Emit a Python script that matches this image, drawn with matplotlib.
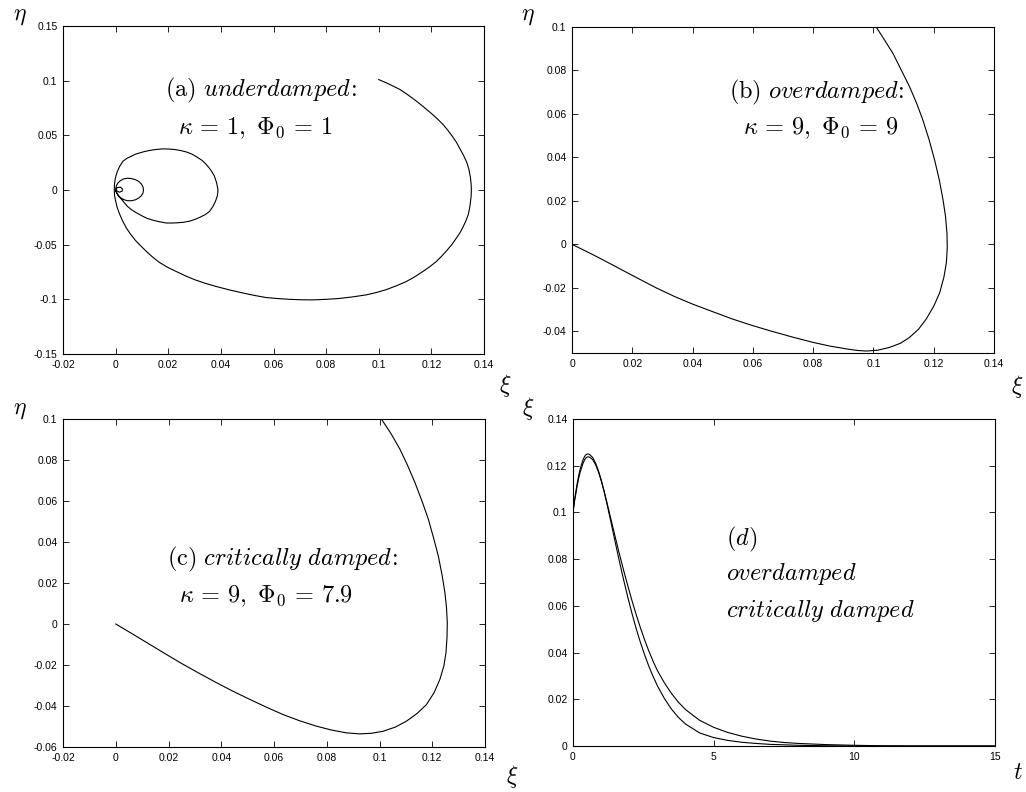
import numpy as np
import matplotlib
matplotlib.use("Agg")
import matplotlib.pyplot as plt

plt.rcParams['mathtext.fontset'] = 'cm'
plt.rcParams['font.family'] = ['Liberation Sans', 'DejaVu Sans']

# (a) underdamped trajectory (xi, eta)
a_xi = [0.100, 0.104, 0.108, 0.1112, 0.1143, 0.1172, 0.120, 0.1223, 0.1244, 0.1263,
        0.128, 0.1295, 0.1307, 0.1322, 0.1335, 0.1343, 0.1348, 0.1351, 0.1352, 0.1351,
        0.1348, 0.1345, 0.134, 0.1331, 0.1320, 0.1309, 0.1295, 0.1279, 0.1260, 0.1240,
        0.1219, 0.1193, 0.1165, 0.1136, 0.1105, 0.1068, 0.103, 0.0992, 0.0953, 0.090,
        0.085, 0.080, 0.075, 0.0705, 0.066, 0.0617, 0.0573, 0.0527, 0.048, 0.0431,
        0.0383, 0.034, 0.030, 0.0265, 0.023, 0.0196, 0.0165, 0.014, 0.0117, 0.0095,
        0.0075, 0.0057, 0.0041, 0.0027, 0.0015, 0.0006, 0.0, -0.0004, -0.0005,
        # second loop
        -0.0005, -0.0004, -0.0001, 0.0005, 0.0015, 0.0028, 0.0043, 0.006, 0.0075, 0.0091,
        0.011, 0.013, 0.0155, 0.018, 0.0203, 0.0225, 0.0247, 0.0269, 0.029, 0.031,
        0.0329, 0.0345, 0.0361, 0.0375, 0.0384, 0.0389, 0.0387, 0.0380, 0.037, 0.0357,
        0.034, 0.032, 0.030, 0.0281, 0.0258, 0.0235, 0.0214, 0.0193, 0.0165, 0.014,
        0.012, 0.0104, 0.008, 0.006, 0.0045, 0.0034, 0.002, 0.001, 0.0003, 0.0,
        # third loop
        0.0001, 0.0003, 0.0009, 0.0018, 0.003, 0.0045, 0.006, 0.0075, 0.0088, 0.0098,
        0.0104, 0.0106, 0.0104, 0.0098, 0.0088, 0.0075, 0.006, 0.0045, 0.0031, 0.002,
        0.001, 0.0005, 0.0001, 0.0,
        # innermost
        0.0006, 0.0018, 0.0026, 0.0025, 0.0015, 0.0005, 0.0003]
a_eta = [0.101, 0.0968, 0.092, 0.0868, 0.0813, 0.0757, 0.070, 0.065, 0.060, 0.0545,
         0.049, 0.0437, 0.0385, 0.0318, 0.025, 0.0185, 0.012, 0.006, 0.0, -0.006,
         -0.012, -0.017, -0.0226, -0.0283, -0.034, -0.039, -0.044, -0.0495, -0.055, -0.0603,
         -0.0654, -0.0703, -0.075, -0.0795, -0.0837, -0.0875, -0.091, -0.0937, -0.0959, -0.0978,
         -0.0992, -0.100, -0.1005, -0.1004, -0.100, -0.0993, -0.0984, -0.0964, -0.094, -0.0913,
         -0.0883, -0.0853, -0.082, -0.0785, -0.0745, -0.0705, -0.066, -0.0612, -0.0562, -0.051,
         -0.046, -0.0405, -0.0348, -0.0285, -0.022, -0.016, -0.010, -0.005, -0.001,
         0.002, 0.006, 0.011, 0.016, 0.0215, 0.0263, 0.029, 0.031, 0.0327, 0.0339,
         0.0352, 0.0362, 0.0371, 0.0376, 0.0375, 0.037, 0.0361, 0.0348, 0.0328, 0.030,
         0.027, 0.0232, 0.0185, 0.013, 0.0065, 0.0, -0.005, -0.010, -0.015, -0.0196,
         -0.0226, -0.025, -0.0270, -0.0285, -0.0295, -0.030, -0.0302, -0.0302, -0.029, -0.0275,
         -0.026, -0.0241, -0.021, -0.018, -0.015, -0.0119, -0.008, -0.005, -0.002, -0.001,
         0.002, 0.004, 0.0065, 0.0085, 0.0101, 0.0108, 0.0105, 0.0095, 0.0078, 0.0055,
         0.0028, 0.0, -0.0027, -0.0052, -0.0073, -0.009, -0.0098, -0.0098, -0.0088, -0.0072,
         -0.005, -0.003, -0.001, 0.0,
         0.0022, 0.0026, 0.001, -0.001, -0.002, -0.001, 0.0]

# (b) overdamped trajectory
b_xi = [0.0, 0.007, 0.0135, 0.0207, 0.0279, 0.034, 0.040, 0.0467, 0.0533, 0.0595,
        0.0655, 0.0727, 0.0799, 0.0855, 0.091, 0.0945, 0.0976, 0.1015, 0.1054, 0.109,
        0.112, 0.115, 0.1175, 0.1200, 0.122, 0.1234, 0.1242, 0.1245, 0.1244, 0.1239,
        0.1231, 0.1218, 0.1203, 0.1185, 0.1164, 0.1143, 0.112, 0.1093, 0.1065, 0.1037, 0.1009]
b_eta = [0.0, -0.0048, -0.0095, -0.0148, -0.020, -0.024, -0.0275, -0.031, -0.0344, -0.0372,
         -0.0397, -0.0425, -0.0451, -0.0468, -0.0481, -0.0488, -0.0491, -0.0487, -0.0474, -0.0455,
         -0.0428, -0.039, -0.0344, -0.0285, -0.0222, -0.015, -0.0084, -0.0015, 0.0051, 0.013,
         0.0204, 0.030, 0.0388, 0.048, 0.0572, 0.065, 0.0725, 0.080, 0.0878, 0.094, 0.100]

# (c) critically damped trajectory
c_xi = [0.0, 0.0064, 0.0127, 0.019, 0.0253, 0.0317, 0.038, 0.0443, 0.0507, 0.057,
        0.0633, 0.0697, 0.076, 0.0817, 0.0874, 0.0925, 0.097, 0.1014, 0.106, 0.1102,
        0.1142, 0.1178, 0.1207, 0.1229, 0.1244, 0.1252, 0.1256, 0.1257, 0.1254, 0.1248,
        0.1237, 0.1223, 0.1205, 0.1185, 0.1161, 0.1134, 0.1106, 0.1077, 0.1043, 0.1007]
c_eta = [0.0, -0.0049, -0.0098, -0.0147, -0.0195, -0.0241, -0.0285, -0.0327, -0.0367, -0.0405,
         -0.0441, -0.0472, -0.0498, -0.0517, -0.0531, -0.0536, -0.0533, -0.0523, -0.0503, -0.0474,
         -0.0437, -0.0393, -0.0335, -0.027, -0.0205, -0.014, -0.0065, 0.0007, 0.008, 0.0153,
         0.024, 0.0332, 0.042, 0.0512, 0.060, 0.0691, 0.0775, 0.0854, 0.093, 0.100]

# (d) xi(t) for both cases
t_vals = [0, 0.05, 0.1, 0.15, 0.2, 0.25, 0.3, 0.35, 0.4, 0.45,
          0.5, 0.55, 0.6, 0.7, 0.8, 0.9, 1.0, 1.1, 1.2, 1.35,
          1.5, 1.65, 1.8, 1.95, 2.1, 2.25, 2.4, 2.55, 2.7, 2.85,
          3.0, 3.25, 3.5, 3.75, 4.0, 4.5, 5.0, 5.5, 6.0, 6.5,
          7.0, 7.5, 8.0, 9.0, 10, 11, 12, 15]
xi_over = [0.100, 0.1045, 0.108, 0.1115, 0.1145, 0.117, 0.119, 0.1208, 0.1222, 0.1232,
           0.1237, 0.1238, 0.1236, 0.1226, 0.1205, 0.1175, 0.1137, 0.1093, 0.1045, 0.0970,
           0.0895, 0.0822, 0.0752, 0.0685, 0.0621, 0.0561, 0.0505, 0.0453, 0.0405, 0.0362,
           0.0323, 0.0270, 0.0225, 0.0187, 0.0156, 0.011, 0.008, 0.0058, 0.0042, 0.003,
           0.0021, 0.0015, 0.0011, 0.0006, 0.0003, 0.0001, 0.0, 0.0]
xi_crit = [0.100, 0.105, 0.1088, 0.1125, 0.1157, 0.1183, 0.1205, 0.1223, 0.1237, 0.1246,
           0.125, 0.125, 0.1247, 0.1235, 0.1212, 0.118, 0.1140, 0.1093, 0.1041, 0.0958,
           0.0873, 0.0790, 0.0711, 0.0636, 0.0566, 0.0501, 0.0442, 0.0389, 0.0340, 0.0297,
           0.0258, 0.0203, 0.0158, 0.0122, 0.0094, 0.0056, 0.0036, 0.0024, 0.0016, 0.0011,
           0.0007, 0.0005, 0.0003, 0.0001, 0.0, 0.0, 0.0, 0.0]

# ticks
xt_ac = [-0.02, 0, 0.02, 0.04, 0.06, 0.08, 0.1, 0.12, 0.14]
xl_ac = ['-0.02', '0', '0.02', '0.04', '0.06', '0.08', '0.1', '0.12', '0.14']
xt_b = [0, 0.02, 0.04, 0.06, 0.08, 0.1, 0.12, 0.14]
xl_b = ['0', '0.02', '0.04', '0.06', '0.08', '0.1', '0.12', '0.14']
yt_a = [-0.15, -0.1, -0.05, 0, 0.05, 0.1, 0.15]
yl_a = ['-0.15', '-0.1', '-0.05', '0', '0.05', '0.1', '0.15']
yt_b = [-0.04, -0.02, 0, 0.02, 0.04, 0.06, 0.08, 0.1]
yl_b = ['-0.04', '-0.02', '0', '0.02', '0.04', '0.06', '0.08', '0.1']
yt_c = [-0.06, -0.04, -0.02, 0, 0.02, 0.04, 0.06, 0.08, 0.1]
yl_c = ['-0.06', '-0.04', '-0.02', '0', '0.02', '0.04', '0.06', '0.08', '0.1']
xt_d = [0, 5, 10, 15]
xl_d = ['0', '5', '10', '15']
yt_d = [0, 0.02, 0.04, 0.06, 0.08, 0.1, 0.12, 0.14]
yl_d = ['0', '0.02', '0.04', '0.06', '0.08', '0.1', '0.12', '0.14']

W, H = 1026, 792
fig = plt.figure(figsize=(W / 100, H / 100), dpi=100)


def make_ax(x0, y0, x1, y1):
    # pixel box -> figure fraction
    ax = fig.add_axes([x0 / W, 1 - y1 / H, (x1 - x0) / W, (y1 - y0) / H])
    ax.tick_params(direction='in', top=True, right=True, length=4, width=0.6,
                   labelsize=7.5, pad=4)
    for s in ax.spines.values():
        s.set_linewidth(0.8)
    return ax


axa = make_ax(63, 26, 484, 354)
axa.plot(a_xi, a_eta, color='black', lw=0.8)
axa.set_xlim(-0.02, 0.14)
axa.set_ylim(-0.15, 0.15)
axa.set_xticks(xt_ac, xl_ac)
axa.set_yticks(yt_a, yl_a)

axb = make_ax(572, 27, 994, 353)
axb.plot(b_xi, b_eta, color='black', lw=0.8)
axb.set_xlim(0, 0.14)
axb.set_ylim(-0.05, 0.1)
axb.set_xticks(xt_b, xl_b)
axb.set_yticks(yt_b, yl_b)

axc = make_ax(63, 419, 485, 747)
axc.plot(c_xi, c_eta, color='black', lw=0.8)
axc.set_xlim(-0.02, 0.14)
axc.set_ylim(-0.06, 0.1)
axc.set_xticks(xt_ac, xl_ac)
axc.set_yticks(yt_c, yl_c)

axd = make_ax(573, 419, 995, 746)
axd.plot(t_vals, xi_over, color='black', lw=0.8)
axd.plot(t_vals, xi_crit, color='black', lw=0.8)
axd.set_xlim(0, 15)
axd.set_ylim(0, 0.14)
axd.set_xticks(xt_d, xl_d)
axd.set_yticks(yt_d, yl_d)


def ftext(x, y, s, size=17.5, ha='center'):
    fig.text(x / W, 1 - y / H, s, fontsize=size, ha=ha, va='center')


# axis labels
ftext(20, 16, r'$\eta$', 17)
ftext(505, 385, r'$\xi$', 17)
ftext(528, 16, r'$\eta$', 17)
ftext(1017, 387, r'$\xi$', 17)
ftext(20, 410, r'$\eta$', 17)
ftext(512, 776, r'$\xi$', 17)
ftext(528, 409, r'$\xi$', 17)
ftext(1018, 773, r'$t$', 17)

# panel annotations
ftext(261, 90, r'$\mathrm{(a)}\ \mathit{underdamped}\!:$')
ftext(255, 128, r'$\kappa\,=\,1,\ \Phi_0\,=\,1$')
ftext(817, 92, r'$\mathrm{(b)}\ \mathit{overdamped}\!:$')
ftext(821, 128, r'$\kappa\,=\,9,\ \Phi_0\,=\,9$')
ftext(282, 559, r'$\mathrm{(c)}\ \mathit{critically\ damped}\!:$')
ftext(266, 596, r'$\kappa\,=\,9,\ \Phi_0\,=\,7.9$')
ftext(726, 539, r'$(d)$', ha='left')
ftext(726, 574, r'$\mathit{overdamped}$', ha='left')
ftext(726, 611, r'$\mathit{critically\ damped}$', ha='left')

fig.savefig('out.png', dpi=100)
